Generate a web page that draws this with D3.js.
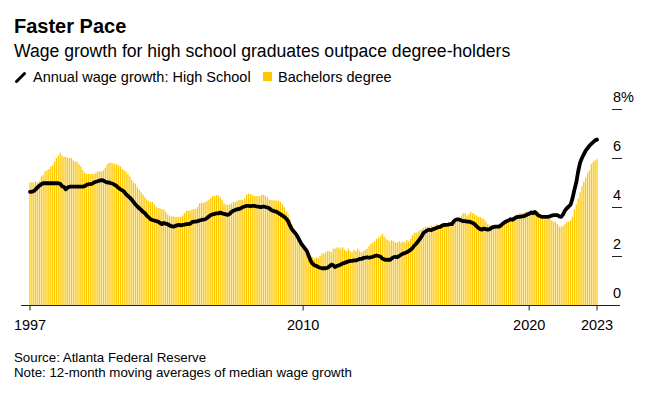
<!DOCTYPE html>
<html><head><meta charset="utf-8">
<script src="https://cdn.jsdelivr.net/npm/d3@7"></script>
<style>
body{margin:0;background:#fff;}
svg{font-family:"Liberation Sans",Arial,Helvetica,sans-serif;display:block;}
</style></head>
<body><svg id="c" width="655" height="393"></svg>
<script>
// ---- data (12-month moving averages, %), monthly Dec 1997 .. Jan 2023 ----
const startMonth = "1997-12";
const bachelors = [
 5.0,
 5.0,5.0,5.05,5.0,5.05,5.25,5.3,5.45,5.5,5.55,5.65,5.7,
 5.85,6.0,6.1,6.2,6.1,6.05,6.05,6.0,6.0,6.0,5.9,5.85,
 5.85,5.75,5.65,5.5,5.4,5.35,5.35,5.35,5.35,5.35,5.4,5.45,
 5.45,5.45,5.5,5.6,5.75,5.8,5.8,5.8,5.75,5.75,5.7,5.65,
 5.55,5.5,5.45,5.35,5.25,5.1,5.0,4.95,4.8,4.7,4.6,4.5,
 4.4,4.3,4.25,4.2,4.2,4.1,4.0,3.95,3.95,3.9,3.9,3.8,
 3.7,3.65,3.62,3.62,3.6,3.6,3.6,3.6,3.65,3.75,3.85,3.85,
 3.85,3.9,3.92,3.92,4.0,4.15,4.17,4.17,4.2,4.25,4.3,4.38,
 4.45,4.45,4.48,4.48,4.4,4.3,4.15,4.1,4.08,4.1,4.15,4.2,
 4.2,4.25,4.28,4.3,4.28,4.35,4.5,4.55,4.52,4.5,4.45,4.45,
 4.45,4.45,4.5,4.5,4.45,4.4,4.3,4.28,4.27,4.27,4.27,4.25,
 4.2,4.1,4.0,3.8,3.7,3.5,3.3,3.1,2.95,2.8,2.6,2.45,
 2.35,2.2,2.1,2.05,2.0,1.95,1.9,1.95,1.92,2.0,2.1,2.1,
 2.15,2.2,2.2,2.15,2.3,2.3,2.35,2.35,2.3,2.35,2.25,2.2,
 2.3,2.2,2.15,2.25,2.2,2.3,2.2,2.15,2.2,2.25,2.3,2.4,
 2.5,2.55,2.6,2.7,2.75,2.8,2.9,2.8,2.7,2.65,2.6,2.65,
 2.6,2.55,2.55,2.6,2.55,2.6,2.55,2.65,2.6,2.7,2.85,2.95,
 2.95,3.0,3.05,3.1,3.15,3.2,3.2,3.2,3.25,3.2,3.25,3.3,
 3.25,3.3,3.2,3.25,3.3,3.25,3.2,3.25,3.3,3.45,3.55,3.6,
 3.65,3.75,3.75,3.65,3.7,3.8,3.75,3.7,3.65,3.6,3.6,3.55,
 3.5,3.4,3.3,3.25,3.25,3.25,3.25,3.25,3.3,3.3,3.4,3.45,
 3.5,3.5,3.55,3.5,3.55,3.6,3.7,3.75,3.75,3.75,3.8,3.8,
 3.8,3.78,3.8,3.8,3.75,3.8,3.6,3.55,3.5,3.5,3.55,3.5,
 3.45,3.4,3.4,3.3,3.2,3.2,3.22,3.3,3.4,3.4,3.45,3.6,
 3.9,4.1,4.35,4.6,4.85,5.05,5.2,5.4,5.5,5.75,5.85,5.9,
 5.95
];
const highSchool = [
 4.62,
 4.62,4.65,4.72,4.8,4.87,4.93,4.97,4.97,4.97,4.97,4.97,4.97,
 4.97,4.97,4.97,4.95,4.85,4.82,4.72,4.8,4.83,4.83,4.83,4.83,
 4.83,4.83,4.83,4.83,4.85,4.9,4.93,4.93,4.95,5.0,5.03,5.05,
 5.08,5.1,5.08,5.03,5.0,5.0,4.97,4.95,4.9,4.85,4.78,4.72,
 4.68,4.62,4.52,4.45,4.38,4.3,4.2,4.1,4.02,3.95,3.88,3.8,
 3.75,3.65,3.58,3.5,3.47,3.45,3.42,3.4,3.35,3.3,3.35,3.32,
 3.3,3.25,3.22,3.2,3.22,3.25,3.27,3.25,3.27,3.28,3.3,3.3,
 3.32,3.38,3.4,3.4,3.42,3.45,3.47,3.48,3.5,3.55,3.62,3.67,
 3.7,3.72,3.74,3.74,3.77,3.74,3.72,3.7,3.68,3.72,3.8,3.85,
 3.88,3.9,3.92,3.95,4.0,4.02,4.05,4.05,4.03,4.05,4.05,4.03,
 4.02,4.0,4.0,4.02,4.0,3.98,3.95,3.88,3.85,3.82,3.8,3.75,
 3.7,3.65,3.6,3.52,3.42,3.25,3.1,3.0,2.92,2.8,2.65,2.5,
 2.4,2.3,2.2,2.0,1.8,1.68,1.62,1.6,1.55,1.52,1.5,1.5,
 1.5,1.52,1.58,1.65,1.62,1.55,1.6,1.62,1.65,1.7,1.72,1.75,
 1.78,1.8,1.8,1.82,1.82,1.85,1.88,1.88,1.92,1.93,1.95,1.93,
 1.95,1.97,2.0,2.02,2.0,1.98,1.9,1.86,1.84,1.85,1.84,1.9,
 1.95,1.97,1.95,2.0,2.05,2.1,2.12,2.15,2.2,2.25,2.32,2.42,
 2.5,2.6,2.7,2.82,2.95,3.0,3.05,3.07,3.05,3.1,3.12,3.15,
 3.18,3.2,3.25,3.27,3.27,3.28,3.3,3.3,3.42,3.48,3.5,3.48,
 3.45,3.42,3.42,3.4,3.4,3.38,3.35,3.3,3.22,3.15,3.1,3.08,
 3.12,3.1,3.08,3.1,3.15,3.18,3.2,3.2,3.2,3.25,3.32,3.38,
 3.42,3.45,3.5,3.48,3.52,3.58,3.6,3.6,3.62,3.62,3.65,3.7,
 3.72,3.78,3.75,3.8,3.72,3.65,3.62,3.6,3.6,3.6,3.6,3.62,
 3.65,3.67,3.67,3.67,3.62,3.6,3.7,3.85,3.95,4.02,4.1,4.35,
 4.7,5.0,5.45,5.8,6.0,6.15,6.3,6.4,6.5,6.58,6.65,6.72,
 6.75
];
const xTickMonths = ["1997-12","2010-01","2020-01","2023-01"];
const xTickLabels = ["1997","2010","2020","2023"];
const yTicks = [0,2,4,6,8];
const yTickLabels = ["0","2","4","6","8%"];

// ---- layout ----
const svg = d3.select("#c");
const fmt = d3.timeFormat("%Y-%m");
const parse = d3.timeParse("%Y-%m");
const start = parse(startMonth);
const months = d3.range(bachelors.length).map(i => fmt(d3.timeMonth.offset(start, i)));

const xFirst = 30, xLast = 597;
const step = (xLast - xFirst) / (months.length - 1);
const x = d3.scaleBand().domain(months).range([xFirst - step/2, xLast + step/2]).paddingInner(0.32).paddingOuter(0.16);
const bw = x.bandwidth();
const y = d3.scaleLinear().domain([0, 8]).range([305, 109]);

// title
svg.append("text").attr("x",14).attr("y",33).attr("font-size",20).attr("font-weight","bold").attr("fill","#000").text("Faster Pace");
svg.append("text").attr("x",14).attr("y",57).attr("font-size",17.6).attr("fill","#000").text("Wage growth for high school graduates outpace degree-holders");

// legend
const lg = svg.append("g");
lg.append("line").attr("x1",16.5).attr("y1",81.5).attr("x2",24.5).attr("y2",73.5).attr("stroke","#000").attr("stroke-width",3).attr("stroke-linecap","round");
lg.append("text").attr("x",33).attr("y",82).attr("font-size",14.5).attr("fill","#000").text("Annual wage growth: High School");
lg.append("rect").attr("x",263).attr("y",72).attr("width",9).attr("height",9).attr("fill","#ffc700");
lg.append("text").attr("x",278).attr("y",82).attr("font-size",14.5).attr("fill","#000").text("Bachelors degree");

// bars
svg.append("g").selectAll("rect").data(months).join("rect")
  .attr("x", d => x(d)).attr("width", bw)
  .attr("y", (d,i) => y(bachelors[i]))
  .attr("height", (d,i) => y(0) - y(bachelors[i]))
  .attr("fill", "#ffc700");

// line
const line = d3.line().x(d => x(d[0]) + bw/2).y(d => y(d[1]));
svg.append("path").datum(months.map((m,i)=>[m, highSchool[i]]))
  .attr("d", line).attr("fill","none").attr("stroke","#000")
  .attr("stroke-width",3.8).attr("stroke-linejoin","round").attr("stroke-linecap","round");

// x axis
svg.append("line").attr("x1",21).attr("x2",620).attr("y1",y(0)+0.5).attr("y2",y(0)+0.5).attr("stroke","#222").attr("stroke-width",1);
const xAxis = d3.axisBottom(x).tickValues(xTickMonths).tickSize(5).tickPadding(9)
  .tickFormat(d => xTickLabels[xTickMonths.indexOf(d)]);
const gx = svg.append("g").attr("transform",`translate(0,${y(0)+0.5})`).call(xAxis);
gx.select(".domain").remove();
gx.selectAll(".tick line").attr("stroke","#222");
gx.selectAll(".tick text").attr("font-size",14.5).attr("fill","#000").attr("font-family","Liberation Sans, Arial, sans-serif");

// y axis (right)
const yAxis = d3.axisRight(y).tickValues(yTicks).tickSize(10)
  .tickFormat(d => yTickLabels[yTicks.indexOf(d)]);
const gy = svg.append("g").attr("transform","translate(612,0)").call(yAxis);
gy.select(".domain").remove();
gy.selectAll(".tick line").attr("stroke","#222").attr("opacity", d => d === 0 ? 0 : 1);
gy.selectAll(".tick text").attr("x",1).attr("dy",-8).attr("text-anchor","start")
  .attr("font-size",14.5).attr("fill","#000").attr("font-family","Liberation Sans, Arial, sans-serif");

// footer
svg.append("text").attr("x",14).attr("y",362).attr("font-size",13.3).attr("fill","#000").text("Source: Atlanta Federal Reserve");
svg.append("text").attr("x",14).attr("y",377).attr("font-size",13.3).attr("fill","#000").text("Note: 12-month moving averages of median wage growth");
</script></body></html>
